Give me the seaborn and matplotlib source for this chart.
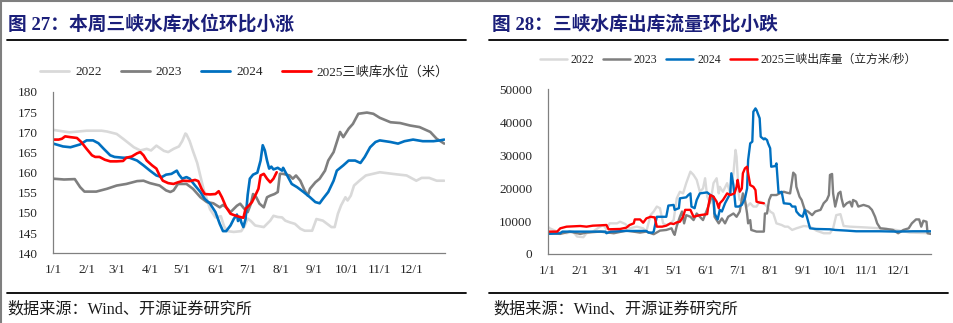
import numpy as np
import pandas as pd
import matplotlib
matplotlib.use("Agg")
import matplotlib.pyplot as plt
from matplotlib.lines import Line2D
import seaborn as sns

# ---------------- data (day of year, value) ----------------
SERIES = ["2022", "2023", "2024", "2025"]
COLORS = ["#d9d9d9", "#7f7f7f", "#0070c0", "#ff0000"]
LEFT_LABELS = ["2022", "2023", "2024", "2025三峡库水位（米）"]
RIGHT_LABELS = ["2022", "2023", "2024", "2025三峡出库量（立方米/秒）"]
MONTH_LABELS = ["1/1", "2/1", "3/1", "4/1", "5/1", "6/1", "7/1", "8/1", "9/1", "10/1", "11/1", "12/1"]

# Left: water level (m)
lv22_day = [0, 15, 31, 45, 50, 59, 65, 75, 81, 87, 91, 96, 103, 107, 112, 117, 120, 123, 124, 127, 130, 134, 137, 140, 143, 146, 151, 156, 159, 162, 168, 175, 178, 181, 184, 188, 196, 202, 205, 209, 213, 216, 220, 225, 230, 234, 241, 245, 251, 256, 259, 262, 265, 268, 272, 274, 277, 280, 285, 291, 304, 310, 319, 329, 338, 343, 350, 357, 364]
lv22_val = [170.6, 170.0, 170.4, 170.4, 170.2, 169.6, 168.4, 166.3, 165.5, 165.9, 165.5, 166.7, 165.4, 165.1, 165.9, 166.5, 167.8, 169.7, 169.5, 167.8, 165.4, 162.4, 159.1, 155.8, 153.4, 150.9, 148.9, 149.2, 146.7, 145.5, 145.3, 145.5, 146.7, 148.6, 148.0, 146.9, 146.5, 148.1, 149.3, 149.0, 148.9, 148.1, 147.7, 147.3, 146.1, 145.6, 145.6, 148.5, 148.1, 147.1, 146.5, 146.5, 149.8, 151.9, 153.9, 153.1, 154.3, 156.8, 158.0, 159.3, 160.1, 159.9, 159.6, 159.3, 158.0, 158.7, 158.7, 158.0, 158.0]

lv23_day = [0, 10, 20, 25, 29, 40, 50, 59, 68, 78, 84, 90, 99, 105, 109, 112, 116, 124, 130, 137, 143, 149, 155, 158, 161, 165, 168, 171, 174, 178, 181, 184, 186, 189, 192, 196, 199, 202, 206, 209, 211, 214, 220, 223, 226, 230, 234, 237, 239, 244, 248, 253, 256, 261, 264, 267, 270, 275, 279, 284, 292, 298, 304, 314, 323, 332, 341, 351, 357, 364]
lv23_val = [158.5, 158.3, 158.4, 156.4, 155.3, 155.3, 156.0, 156.8, 157.2, 157.9, 158.0, 157.4, 156.8, 155.6, 155.2, 155.6, 157.2, 157.2, 156.0, 153.9, 152.7, 152.4, 151.4, 152.0, 151.4, 150.2, 151.0, 151.8, 152.3, 151.0, 150.2, 152.3, 154.7, 153.9, 152.3, 151.4, 153.9, 154.3, 154.7, 155.2, 159.7, 159.7, 159.3, 158.5, 159.3, 158.0, 155.6, 154.3, 156.0, 157.6, 158.5, 160.5, 163.0, 165.1, 167.6, 170.1, 168.8, 170.9, 172.1, 174.6, 174.9, 174.6, 173.6, 172.5, 172.3, 171.7, 171.3, 170.1, 168.4, 167.2]

lv24_day = [0, 9, 16, 25, 31, 37, 42, 47, 50, 53, 57, 65, 71, 78, 84, 90, 96, 101, 105, 110, 115, 117, 120, 124, 127, 132, 137, 141, 146, 151, 155, 158, 161, 165, 168, 171, 172, 174, 175, 177, 179, 181, 183, 186, 190, 193, 195, 197, 199, 201, 203, 205, 209, 213, 214, 217, 222, 227, 233, 239, 244, 248, 251, 256, 261, 264, 270, 275, 281, 286, 290, 295, 300, 304, 314, 321, 327, 335, 344, 354, 360, 364]
lv24_val = [167.2, 166.5, 166.3, 167.0, 168.0, 168.0, 167.3, 165.9, 165.1, 164.3, 163.9, 163.7, 163.7, 163.0, 161.8, 160.5, 159.3, 158.9, 159.5, 159.7, 160.5, 159.5, 158.5, 158.9, 158.5, 156.8, 155.2, 153.5, 152.3, 150.2, 147.3, 145.5, 145.5, 146.9, 148.5, 149.6, 148.0, 148.9, 147.7, 146.5, 148.5, 154.5, 158.5, 159.5, 160.0, 163.0, 166.8, 165.5, 163.0, 161.0, 161.5, 160.8, 161.2, 160.5, 161.2, 159.7, 157.2, 156.4, 155.2, 153.9, 152.7, 152.4, 153.5, 155.2, 158.0, 160.5, 161.8, 163.0, 163.0, 162.4, 163.9, 166.3, 167.6, 168.0, 167.6, 167.2, 167.8, 168.2, 167.8, 167.8, 168.0, 168.2]

lv25_day = [0, 5, 8, 11, 16, 22, 26, 31, 36, 39, 43, 48, 53, 59, 65, 68, 73, 78, 81, 84, 87, 92, 96, 99, 102, 107, 112, 116, 121, 127, 132, 135, 138, 141, 146, 151, 154, 157, 161, 165, 169, 174, 177, 179, 182, 185, 188, 191, 193, 196, 199, 202, 205, 208]
lv25_val = [168.2, 168.2, 168.4, 169.0, 168.8, 168.6, 167.6, 165.9, 164.3, 163.9, 163.9, 163.2, 162.8, 162.8, 162.9, 163.7, 164.0, 164.8, 165.1, 164.3, 163.0, 161.8, 161.0, 159.3, 158.0, 157.4, 157.2, 157.6, 158.0, 157.9, 158.2, 157.9, 156.0, 154.7, 154.6, 154.7, 155.4, 153.9, 151.4, 149.8, 149.4, 149.0, 148.8, 151.0, 151.8, 152.7, 154.3, 156.0, 159.3, 159.7, 158.5, 157.6, 158.5, 160.1]

# Right: outflow (m3/s)
fl22_day = [0, 2, 9, 18, 24, 28, 34, 37, 43, 50, 53, 56, 59, 66, 69, 74, 78, 85, 91, 94, 98, 101, 104, 107, 110, 113, 117, 120, 123, 126, 129, 132, 136, 139, 142, 145, 148, 150, 152, 155, 158, 161, 163, 164, 167, 171, 174, 177, 179, 180, 182, 183, 186, 190, 193, 196, 199, 202, 206, 209, 212, 215, 218, 223, 226, 229, 233, 237, 244, 250, 256, 263, 269, 272, 275, 279, 282, 288, 301, 317, 332, 345, 365]
fl22_val = [8300, 7800, 6800, 6300, 6800, 5300, 5100, 6300, 6800, 8300, 8800, 7500, 9300, 9300, 9800, 9100, 7800, 8300, 7800, 6800, 11800, 12900, 14400, 13900, 9300, 8800, 9300, 10300, 16900, 18900, 18400, 21500, 25000, 24000, 22500, 18900, 19900, 23000, 17400, 15400, 21500, 23000, 18400, 20400, 18900, 21500, 18400, 24500, 31600, 29500, 18400, 16400, 16900, 14400, 15400, 14400, 14400, 15900, 15400, 14400, 12900, 12300, 9300, 8800, 8300, 8300, 7300, 7800, 8500, 8300, 7100, 6300, 6300, 7800, 11800, 12100, 8500, 8300, 8100, 7800, 7300, 6500, 6300]

fl23_day = [0, 12, 21, 31, 37, 50, 63, 75, 88, 94, 101, 107, 113, 118, 120, 121, 123, 126, 128, 130, 132, 136, 139, 142, 145, 148, 153, 156, 158, 159, 163, 166, 169, 172, 177, 180, 183, 186, 188, 190, 191, 193, 194, 199, 206, 207, 209, 211, 213, 218, 221, 225, 228, 231, 233, 234, 236, 237, 240, 242, 245, 248, 252, 255, 260, 263, 266, 268, 269, 271, 272, 274, 277, 279, 280, 282, 285, 288, 290, 291, 294, 296, 301, 306, 309, 312, 314, 317, 323, 329, 334, 339, 344, 347, 351, 354, 356, 358, 361, 362, 365]
fl23_val = [6300, 6100, 6800, 6100, 6500, 6800, 6300, 7100, 6500, 6800, 6000, 7100, 7300, 7800, 6300, 5800, 8500, 11300, 12900, 9300, 11800, 11300, 10300, 12300, 11300, 10300, 14400, 17400, 16400, 11300, 9300, 10800, 9300, 11300, 12300, 11300, 12900, 18400, 16400, 12300, 9300, 10300, 7300, 6800, 6800, 12300, 12300, 16400, 17900, 17900, 18400, 18900, 18600, 18400, 22500, 24700, 24000, 20400, 17400, 16400, 13400, 12900, 11800, 12900, 13400, 15400, 16400, 17900, 24000, 24300, 18400, 14400, 18400, 18900, 16900, 14400, 15400, 15900, 14400, 16400, 15900, 14400, 14900, 14400, 13400, 11300, 9300, 7800, 7600, 7300, 6300, 7300, 7800, 9300, 10500, 10500, 8300, 10100, 9800, 6300, 6100]

fl24_day = [0, 12, 14, 30, 55, 56, 60, 75, 94, 96, 100, 101, 104, 113, 115, 120, 121, 125, 126, 132, 134, 136, 137, 140, 142, 145, 152, 155, 158, 159, 162, 164, 166, 169, 174, 175, 177, 179, 182, 185, 188, 190, 191, 193, 195, 196, 198, 199, 202, 203, 206, 207, 209, 210, 212, 213, 217, 218, 220, 223, 225, 231, 233, 236, 237, 240, 243, 245, 247, 250, 256, 269, 274, 285, 294, 317, 332, 348, 365]
fl24_val = [6100, 6300, 6800, 6800, 6800, 6300, 6800, 7000, 7000, 6500, 6500, 6800, 11300, 11300, 14700, 14900, 13400, 13900, 16900, 17200, 17900, 18400, 14400, 13900, 16400, 18400, 18700, 17900, 17400, 12300, 10500, 13400, 12900, 15400, 18400, 24500, 20900, 14400, 14400, 14900, 16900, 19900, 28500, 33600, 34100, 43200, 44200, 43700, 41200, 35600, 34800, 35100, 34600, 33600, 32100, 26500, 26700, 27500, 18600, 18900, 15400, 15200, 14400, 14400, 12900, 11800, 11300, 13400, 11300, 7800, 7600, 7500, 7300, 7100, 6900, 6900, 6800, 6900, 6900]

fl25_day = [0, 9, 12, 18, 31, 37, 43, 50, 56, 58, 69, 72, 75, 78, 82, 83, 88, 91, 94, 98, 102, 104, 109, 113, 117, 120, 123, 126, 129, 131, 136, 139, 145, 152, 153, 155, 158, 161, 163, 164, 167, 171, 174, 178, 180, 181, 183, 185, 186, 188, 190, 191, 193, 196, 198, 199, 202, 206]
fl25_val = [6800, 6800, 7800, 8300, 8500, 8300, 8600, 8700, 8800, 7500, 7600, 7800, 8000, 8800, 9300, 10500, 10500, 9500, 10800, 11300, 11100, 8300, 8300, 8600, 9300, 9100, 9600, 9800, 11300, 13400, 13400, 11300, 11800, 12100, 14400, 17900, 17400, 15900, 13900, 15400, 16400, 18400, 17900, 18400, 20400, 22500, 18900, 19900, 24500, 26000, 26500, 24500, 20900, 20400, 19400, 15900, 15600, 15400]

# ---------------- style ----------------
sns.set_style("white")
FAM = ["Liberation Serif", "Noto Sans CJK SC"]
plt.rcParams["font.family"] = FAM
plt.rcParams["axes.unicode_minus"] = False

W, H = 954, 323
fig = plt.figure(figsize=(W / 100, H / 100), dpi=100)


def fx(px):
    return px / W


def fy(py):
    return 1 - py / H


BASE = pd.Timestamp("2023-01-01")


def build(days, vals):
    frames = []
    for name, d, v in zip(SERIES, days, vals):
        frames.append(pd.DataFrame({
            "date": BASE + pd.to_timedelta(np.asarray(d), unit="D"),
            "value": v,
            "series": name,
        }))
    return pd.concat(frames, ignore_index=True)


month_ticks = [pd.Timestamp(2023, m, 1) for m in range(1, 13)] + [pd.Timestamp(2024, 1, 1)]
month_labels = MONTH_LABELS + [""]
AXC = "#808080"
TXT = "#262626"


def style_axes(ax, yticks, ylim):
    ax.set_xlim(pd.Timestamp(2023, 1, 1), pd.Timestamp(2024, 1, 1))
    ax.set_ylim(*ylim)
    ax.set_xticks(month_ticks)
    ax.set_xticklabels(month_labels)
    ax.set_yticks(yticks)
    ax.set_yticklabels([str(t) for t in yticks])
    ax.set_xlabel("")
    ax.set_ylabel("")
    for s in ["top", "right"]:
        ax.spines[s].set_visible(False)
    for s in ["left", "bottom"]:
        ax.spines[s].set_color(AXC)
        ax.spines[s].set_linewidth(0.9)
    ax.tick_params(axis="both", direction="in", length=3.5, width=0.8, color=AXC,
                   labelsize=9.5, labelcolor=TXT)
    ax.tick_params(axis="x", pad=8)
    ax.tick_params(axis="y", pad=11)
    ax.grid(False)


# ---------------- left panel ----------------
ax1 = fig.add_axes([fx(53.3), fy(253.3), fx(445.3) - fx(53.3), (253.3 - 92) / H])
df1 = build([lv22_day, lv23_day, lv24_day, lv25_day], [lv22_val, lv23_val, lv24_val, lv25_val])
sns.lineplot(data=df1, x="date", y="value", hue="series", hue_order=SERIES,
             palette=COLORS, estimator=None, sort=False, linewidth=1.9, legend=False, ax=ax1)
style_axes(ax1, list(range(140, 181, 5)), (140, 180))

# ---------------- right panel ----------------
ax2 = fig.add_axes([fx(547.7), fy(254), fx(930.7) - fx(547.7), (254 - 89.3) / H])
df2 = build([fl22_day, fl23_day, fl24_day, fl25_day], [fl22_val, fl23_val, fl24_val, fl25_val])
sns.lineplot(data=df2, x="date", y="value", hue="series", hue_order=SERIES,
             palette=COLORS, estimator=None, sort=False, linewidth=1.7, legend=False, ax=ax2)
style_axes(ax2, list(range(0, 50001, 10000)), (0, 50000))

# ---------------- legends ----------------
h1 = [Line2D([], [], color=c, lw=2.0) for c in COLORS]
fig.legend(h1, LEFT_LABELS, loc="center left", bbox_to_anchor=(fx(40), fy(72)),
           ncol=4, frameon=False, handlelength=2.2, handletextpad=0.45, columnspacing=1.45,
           borderpad=0, borderaxespad=0, prop={"family": FAM, "size": 9.5}, labelcolor=TXT)
h2 = [Line2D([], [], color=c, lw=1.8) for c in COLORS]
fig.legend(h2, RIGHT_LABELS, loc="center left", bbox_to_anchor=(fx(540), fy(60)),
           ncol=4, frameon=False, handlelength=2.3, handletextpad=0.3, columnspacing=0.75,
           borderpad=0, borderaxespad=0, prop={"family": FAM, "size": 8.5}, labelcolor=TXT)

# ---------------- titles, rules, source ----------------
NAVY = "#1b1f7a"
fig.text(fx(8), fy(24.5), "图 27：本周三峡水库水位环比小涨", fontsize=13.5, fontweight="bold",
         color=NAVY, va="center", ha="left", family=FAM)
fig.text(fx(492), fy(24.5), "图 28：三峡水库出库流量环比小跌", fontsize=13.5, fontweight="bold",
         color=NAVY, va="center", ha="left", family=FAM)

for x0, x1 in [(7, 466), (489, 948)]:
    fig.add_artist(Line2D([fx(x0), fx(x1)], [fy(40.3)] * 2, color="black", lw=1.3))
    fig.add_artist(Line2D([fx(x0), fx(x1)], [fy(293.3)] * 2, color="black", lw=1.3))

fig.text(fx(7), fy(309), "数据来源：Wind、开源证券研究所", fontsize=11.6, color="#1a1a1a",
         va="center", ha="left", family=FAM)
fig.text(fx(493), fy(309), "数据来源：Wind、开源证券研究所", fontsize=11.6, color="#1a1a1a",
         va="center", ha="left", family=FAM)

# thin gray frame on top and left edges
fig.add_artist(Line2D([0, 1], [fy(0.6)] * 2, color="#7f7f7f", lw=1.5))
fig.add_artist(Line2D([fx(0.6)] * 2, [0, 1], color="#7f7f7f", lw=1.5))

fig.savefig("out.png", dpi=100)
